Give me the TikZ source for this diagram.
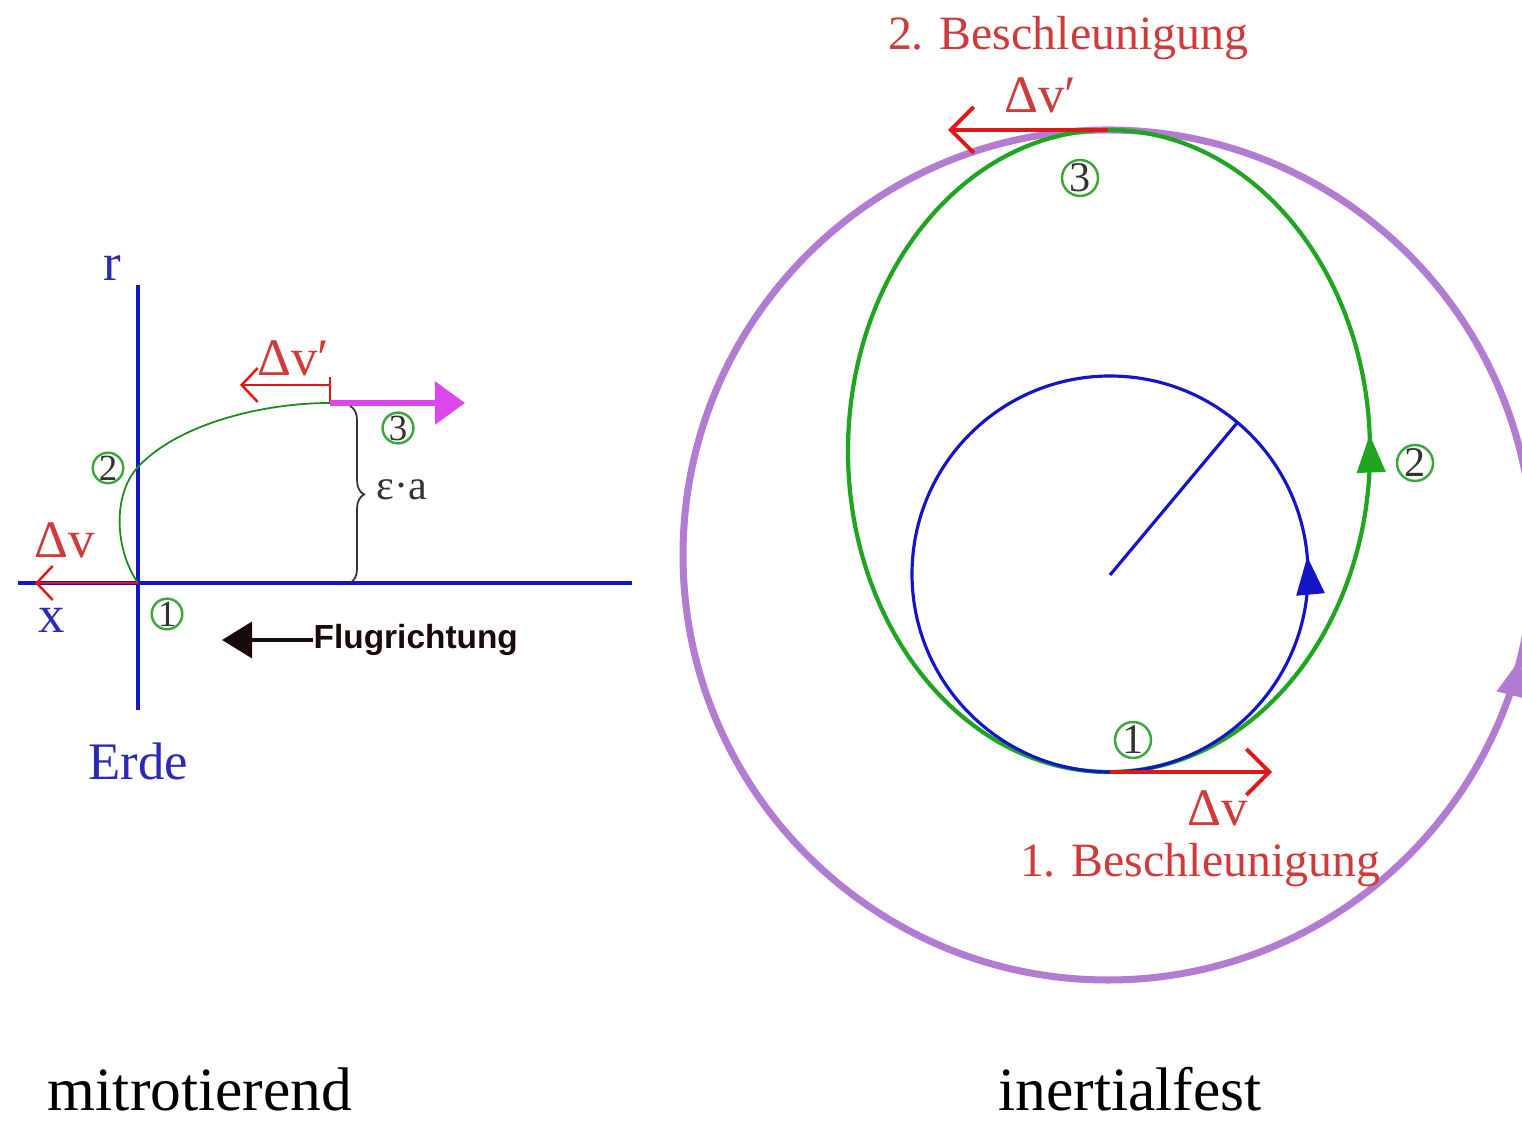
\documentclass[tikz,border=0pt]{standalone}
\usepackage{fontspec}
\setmainfont{Liberation Serif}
\setsansfont{Liberation Sans}
\usetikzlibrary{arrows.meta, positioning, decorations.pathreplacing, decorations.markings}
\definecolor{axBlue}{HTML}{1414C8}
\definecolor{txtBlue}{HTML}{2A2AB4}
\definecolor{arrRed}{HTML}{E01818}
\definecolor{txtRed}{HTML}{CF3A3A}
\definecolor{orbGreen}{HTML}{1FA51F}
\definecolor{numGreen}{HTML}{3CA83C}
\definecolor{numInk}{HTML}{333333}
\definecolor{orbPurple}{HTML}{B27CD2}
\definecolor{boostMag}{HTML}{DC46EC}
\definecolor{flugInk}{HTML}{1A0A0A}

\begin{document}
\begin{tikzpicture}[x=0.01cm, y=0.01cm,
    ax/.style={draw=axBlue, line width=0.9pt},
    lbl/.style={inner sep=0pt, font=\fontsize{15}{18}\selectfont},
    big/.style={inner sep=0pt, font=\fontsize{17.5}{21}\selectfont},
    beschl/.style={inner sep=0pt, text=txtRed, font=\fontsize{13.6}{16}\selectfont},
    num/.style={circle, draw=numGreen, line width=0.7pt, inner sep=0pt, minimum size=#1, text=numInk},
    dvthin/.style={-{Straight Barb[length=1.6mm, width=3.4mm]}, arrRed, line width=0.7pt},
    dvthick/.style={-{Straight Barb[length=2.3mm, width=4.6mm]}, arrRed, line width=1.1pt},
    boost/.style={-{Triangle[length=3mm, width=4.2mm]}, boostMag, line width=1.7pt},
    midarr/.style={postaction={decorate}, decoration={markings, mark=at position #1 with {\arrow{Triangle[length=3.8mm, width=2.8mm]}}}}]
  \useasboundingbox (0,0) rectangle (1522,1125);

  % mitrotierend
  \coordinate (o) at (138,542);
  \coordinate (rtop) at (138,840);
  \coordinate (rbot) at (138,415);
  \coordinate (xl) at (18,542);
  \coordinate (xr) at (632,542);
  \coordinate (dvtip) at (35,542);
  \coordinate (p3) at (330,722);
  \coordinate (p3r) at (465,722);
  \coordinate (tick) at (330,748);
  \coordinate (dvpa) at (330,740);
  \coordinate (dvpb) at (240,740);
  \coordinate (bt) at (350,719);
  \coordinate (bb) at (350,542);
  \coordinate (flugtip) at (222,485);

  \draw[ax] (rbot) -- (rtop);
  \draw[ax] (xl) -- (xr);
  \draw[orbGreen!85!black, line width=0.5pt] (o) .. controls (115,575) and (112,630) .. (138,658)
    .. controls (177,700) and (260,722) .. (p3);
  \draw[dvthin] (o) -- (dvtip);
  \draw[arrRed, line width=0.7pt] (tick) -- (p3);
  \draw[dvthin] (dvpa) -- (dvpb);
  \draw[boost] (p3) -- (p3r);
  \draw[numInk, line width=0.5pt, decorate, decoration={brace, amplitude=4pt}] (bt) -- (bb);

  \node[lbl, text=txtBlue] (rlab) at (112,857) {r};
  \node[lbl, text=txtBlue] (xlab) at (52,505) {x};
  \node[lbl, text=txtRed] (dvlab) at (65,585) {Δv};
  \node[lbl, text=txtRed] (dvplab) at (293,767) {Δv′};
  \node[num=0.26cm, font=\fontsize{10.5}{12}\selectfont] (n1l) at (167,511) {1};
  \node[num=0.26cm, font=\fontsize{10.5}{12}\selectfont] (n2l) at (108,657) {2};
  \node[num=0.26cm, font=\fontsize{10.5}{12}\selectfont] (n3l) at (398,697) {3};
  \node[inner sep=0pt, text=numInk, font=\fontsize{12}{14}\selectfont] (ea) at (402,635) {ε·a};
  \node[inner sep=0pt, anchor=west, text=flugInk, font=\sffamily\bfseries\fontsize{9.5}{11}\selectfont] (flug) at (313,485) {Flugrichtung};
  \draw[-{Triangle[length=3mm, width=3.6mm]}, flugInk, line width=1pt] (flug.west) -- (flugtip);
  \node[lbl, text=txtBlue, below=0.32cm of rbot] (erde) {Erde};
  \node[big] (mitrot) at (200,36) {mitrotierend};

  % inertialfest
  \coordinate (ec) at (1108,570);
  \coordinate (bc) at (1110,550);
  \coordinate (brad) at (1237,702);
  \coordinate (peri) at (1110,353);
  \coordinate (apo) at (1108,995);
  \coordinate (dvend) at (1272,353);
  \coordinate (dvpend) at (948,995);

  \draw[orbPurple, line width=2pt, midarr=0.211] (1108,145) arc[start angle=-90, end angle=270, radius=425];
  \draw[orbGreen, line width=1.2pt, midarr=0.259] (1109,353) arc[start angle=-90, end angle=270, x radius=261, y radius=321];
  \draw[axBlue, line width=0.9pt, midarr=0.264] (peri) arc[start angle=-90, end angle=270, radius=198];
  \draw[axBlue, line width=0.9pt] (bc) -- (brad);
  \draw[dvthick] (peri) -- (dvend);
  \draw[dvthick] (apo) -- (dvpend);

  \node[num=0.36cm, font=\fontsize{12}{14}\selectfont] (n1r) at (1133,385) {1};
  \node[num=0.36cm, font=\fontsize{12}{14}\selectfont] (n2r) at (1415,662) {2};
  \node[num=0.36cm, font=\fontsize{12}{14}\selectfont] (n3r) at (1080,947) {3};
  \node[lbl, text=txtRed] (dvrlab) at (1218,317) {Δv};
  \node[beschl] (b1) at (1200,260) {1. Beschleunigung};
  \node[lbl, text=txtRed] (dvprlab) at (1040,1030) {Δv′};
  \node[beschl] (b2) at (1068,1087) {2. Beschleunigung};
  \node[big] (inert) at (1130,36) {inertialfest};
\end{tikzpicture}
\end{document}
